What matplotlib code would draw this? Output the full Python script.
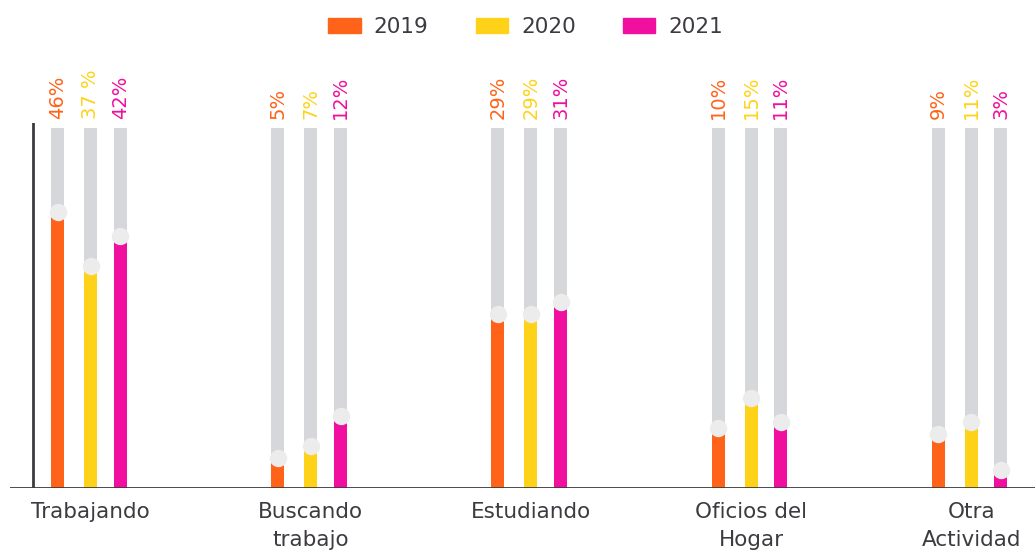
import matplotlib
matplotlib.use("Agg")
import matplotlib.pyplot as plt
from matplotlib.patches import Patch
import numpy as np

categories = ["Trabajando", "Buscando\ntrabajo", "Estudiando", "Oficios del\nHogar", "Otra\nActividad"]
years = ["2019", "2020", "2021"]
v2019 = [46, 5, 29, 10, 9]
v2020 = [37, 7, 29, 15, 11]
v2021 = [42, 12, 31, 11, 3]
lab2019 = ["46%", "5%", "29%", "10%", "9%"]
lab2020 = ["37 %", "7%", "29%", "15%", "11%"]
lab2021 = ["42%", "12%", "31%", "11%", "3%"]
track_max = 60

colors = ["#ff6319", "#ffd21a", "#f00f9f"]
track_color = "#d5d7da"
dot_color = "#ececec"
text_color = "#3d3a40"

plt.rcParams["font.family"] = ["DejaVu Sans"]

fig = plt.figure(figsize=(10.35, 5.5), dpi=100)
ax = fig.add_axes([10 / 1035, 62 / 550, 1 - 10 / 1035, 365 / 550])

x = np.arange(len(categories))
offsets = [-0.15, 0.0, 0.135]
width = 0.059
series = [v2019, v2020, v2021]
labels = [lab2019, lab2020, lab2021]

for vals, labs, off, col in zip(series, labels, offsets, colors):
    xs = x + off
    ax.bar(xs, [track_max] * len(xs), width=width, color=track_color, zorder=1)
    ax.bar(xs, vals, width=width, color=col, zorder=2)
    ax.plot(xs, vals, "o", color=dot_color, markersize=11.5, zorder=3)
    for xi, lab in zip(xs, labs):
        ax.text(xi, 61.5, lab, rotation=90, ha="center", va="bottom",
                color=col, fontsize=14, clip_on=False)

ax.set_xlim(-0.367, 4.29)
ax.set_ylim(0, 60.8)
for s in ax.spines.values():
    s.set_visible(False)
ax.axhline(0, color=text_color, linewidth=2, zorder=4)
ax.plot([-0.263, -0.263], [0, 60.8], color=text_color, linewidth=2, zorder=4)
ax.set_yticks([])
ax.set_xticks(x)
ax.set_xticklabels(categories, fontsize=15.5, color=text_color, linespacing=1.5)
ax.tick_params(axis="x", length=0, pad=10)

handles = [Patch(color=c, label=y) for c, y in zip(colors, years)]
fig.legend(handles=handles, loc="center", bbox_to_anchor=(0.508, 0.951), ncol=3,
           frameon=False, fontsize=15.5, labelcolor=text_color,
           handlelength=1.5, handleheight=0.67, handletextpad=0.6, columnspacing=2.2)

fig.savefig("out.png", dpi=100)
